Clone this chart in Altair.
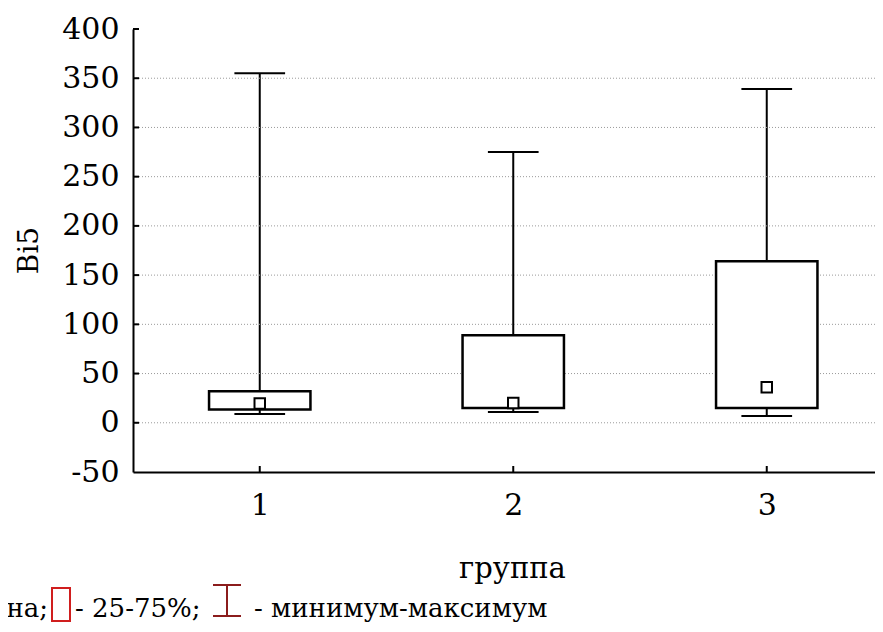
import altair as alt
import pandas as pd

# ---- data ----
groups = [1, 2, 3]
mins = [9, 11, 7]
q1s = [13.5, 15, 15]
medians = [19.5, 20, 36]
q3s = [32, 89, 164]
maxs = [355, 275, 339]
y_tick_values = [-50, 0, 50, 100, 150, 200, 250, 300, 350, 400]
grid_values = [0, 50, 100, 150, 200, 250, 300, 350]
inner_tick_values = [0, 50, 100, 150, 200, 250, 300, 350, 400]
legend_median = "□ - медиана;"
legend_box = "- 25-75%;"
legend_whisker = "- минимум-максимум"

FONT = "DejaVu Serif"
W, H = 742, 443

df = pd.DataFrame(dict(group=groups, lo=mins, q1=q1s, med=medians, q3=q3s, hi=maxs))

xs = alt.Scale(domain=[0.5, 0.5 + W / 253.5], nice=False, zero=False)
ys = alt.Scale(domain=[-50, 400], nice=False, zero=False)

x_axis = alt.Axis(values=groups, labelExpr="'' + datum.value", grid=False, ticks=False,
                  domain=True, domainColor="black", domainWidth=2,
                  labelFont=FONT, labelFontSize=30, labelColor="black", labelPadding=18,
                  title="группа", titleFont=FONT, titleFontSize=29, titleFontWeight="normal",
                  titleColor="black", titleX=379, titleY=105, titleBaseline="alphabetic",
                  titleAlign="center")
y_axis = alt.Axis(values=y_tick_values, labelExpr="'' + datum.value", grid=False, ticks=False,
                  domain=True, domainColor="black", domainWidth=2,
                  labelFont=FONT, labelFontSize=30, labelColor="black", labelPadding=14,
                  title="Bi5", titleFont=FONT, titleFontSize=28, titleFontWeight="normal",
                  titleColor="black", titleAngle=-90, titleX=-104, titleY=221,
                  titleBaseline="middle", titleAlign="center")

base = alt.Chart(df)

grid = alt.Chart(pd.DataFrame({"v": grid_values})).mark_rule(
    color="#9a9a9a", strokeWidth=1, strokeDash=[1, 2]
).encode(y=alt.Y("v:Q", scale=ys), x=alt.value(0), x2=alt.value(W))

whisker = base.mark_rule(color="black", strokeWidth=2).encode(
    x=alt.X("group:Q", scale=xs, axis=x_axis),
    y=alt.Y("lo:Q", scale=ys, axis=y_axis),
    y2="hi:Q",
)

caps_lo = base.transform_calculate(cl="datum.group - 0.1", cr="datum.group + 0.1").mark_rule(
    color="black", strokeWidth=2
).encode(x=alt.X("cl:Q", scale=xs), x2="cr:Q", y=alt.Y("lo:Q", scale=ys))

caps_hi = base.transform_calculate(cl="datum.group - 0.1", cr="datum.group + 0.1").mark_rule(
    color="black", strokeWidth=2
).encode(x=alt.X("cl:Q", scale=xs), x2="cr:Q", y=alt.Y("hi:Q", scale=ys))

boxes = base.transform_calculate(bl="datum.group - 0.2", br="datum.group + 0.2").mark_rect(
    fill="white", stroke="black", strokeWidth=2.5
).encode(x=alt.X("bl:Q", scale=xs), x2="br:Q", y=alt.Y("q1:Q", scale=ys), y2="q3:Q")

med = base.mark_point(shape="square", size=110, fill="white", stroke="black",
                      strokeWidth=2, opacity=1, filled=False).encode(
    x=alt.X("group:Q", scale=xs), y=alt.Y("med:Q", scale=ys)
)

ytick_rules = alt.Chart(pd.DataFrame({"v": inner_tick_values})).mark_rule(
    color="black", strokeWidth=2
).encode(y=alt.Y("v:Q", scale=ys), x=alt.value(0), x2=alt.value(6))

xtick_rules = base.mark_rule(color="black", strokeWidth=2).encode(
    x=alt.X("group:Q", scale=xs), y=alt.value(H), y2=alt.value(H - 6)
)

# ---- legend line under the chart (left part runs off the page) ----
LY = 588
LFS = 26
leg1 = alt.Chart(pd.DataFrame({"t": [legend_median]})).mark_text(
    font=FONT, fontSize=LFS, align="right", baseline="alphabetic", color="black"
).encode(text="t:N", x=alt.value(-85), y=alt.value(LY))
leg_box = alt.Chart(pd.DataFrame({"t": [legend_box]})).mark_rect(
    fill="transparent", stroke="#d01e1e", strokeWidth=2
).encode(x=alt.value(-81), x2=alt.value(-63), y=alt.value(LY - 29), y2=alt.value(LY + 4))
leg2 = alt.Chart(pd.DataFrame({"t": [legend_box]})).mark_text(
    font=FONT, fontSize=LFS, align="left", baseline="alphabetic", color="black"
).encode(text="t:N", x=alt.value(-58), y=alt.value(LY))
leg_iv = alt.Chart(pd.DataFrame({"t": [legend_whisker]})).mark_rule(
    color="#8b1c1c", strokeWidth=2
).encode(x=alt.value(94), y=alt.value(LY - 32), y2=alt.value(LY - 1))
leg_it = alt.Chart(pd.DataFrame({"t": [legend_whisker]})).mark_rule(
    color="#8b1c1c", strokeWidth=2
).encode(x=alt.value(80), x2=alt.value(108), y=alt.value(LY - 32))
leg_ib = alt.Chart(pd.DataFrame({"t": [legend_whisker]})).mark_rule(
    color="#8b1c1c", strokeWidth=2
).encode(x=alt.value(80), x2=alt.value(108), y=alt.value(LY - 1))
leg3 = alt.Chart(pd.DataFrame({"t": [legend_whisker]})).mark_text(
    font=FONT, fontSize=LFS, align="left", baseline="alphabetic", color="black"
).encode(text="t:N", x=alt.value(121), y=alt.value(LY))

chart = alt.layer(
    whisker, grid, caps_lo, caps_hi, boxes, med, ytick_rules, xtick_rules,
    leg1, leg_box, leg2, leg_iv, leg_it, leg_ib, leg3
).properties(
    width=W, height=H,
    autosize=alt.AutoSizeParams(type="none"),
    padding={"left": 125, "top": 21, "right": 0, "bottom": 150},
    background="white",
).configure_view(stroke=None)

chart.save("out.html", embed_options={"renderer": "svg", "actions": False})
